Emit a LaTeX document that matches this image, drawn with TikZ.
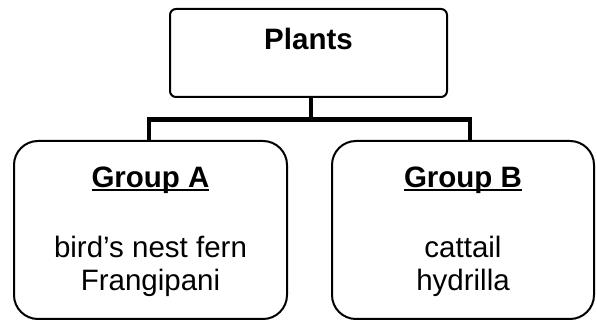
\documentclass[tikz,border=0pt]{standalone}
\usepackage{fontspec}
\setmainfont{Liberation Sans}
\usetikzlibrary{positioning,calc}

% bold heading with a low underline
\newcommand{\grouphead}[1]{\setbox0\hbox{\bfseries #1}\rlap{\rule[-0.1em]{\wd0}{0.075em}}\box0}

\begin{document}
\begin{tikzpicture}[x=1pt, y=1pt,
  box/.style={draw, line width=2pt, rounded corners=6pt, inner sep=0pt,
    align=center, font=\fontsize{29.5}{33}\selectfont},
  groupbox/.style={box, rounded corners=24pt, minimum width=273pt,
    minimum height=178pt, text height=150pt, text depth=28pt},
  connector/.style={line width=4.5pt}
]
\useasboundingbox (0,0) rectangle (597,321);

% ================= TOP =================
\node[box, minimum width=277pt, text height=41pt, text depth=47pt]
  (plants) at (308.5,268) {\textbf{Plants}};

% ================= GROUPS =================
\node[groupbox] (groupA) at (150.5,91)
  {\grouphead{Group A}\\[37pt] bird's nest fern\\ Frangipani};
\node[groupbox, minimum width=262pt] (groupB) at (463,91)
  {\grouphead{Group B}\\[37pt] cattail\\ hydrilla};

% ================= CONNECTORS =================
\coordinate (hub) at (311,201.5);
\draw[connector] (plants.south -| hub) -- (hub);
\draw[connector] ([xshift=-1.5pt]groupA.north) |- (hub) -| ([xshift=7pt]groupB.north);

\end{tikzpicture}
\end{document}
